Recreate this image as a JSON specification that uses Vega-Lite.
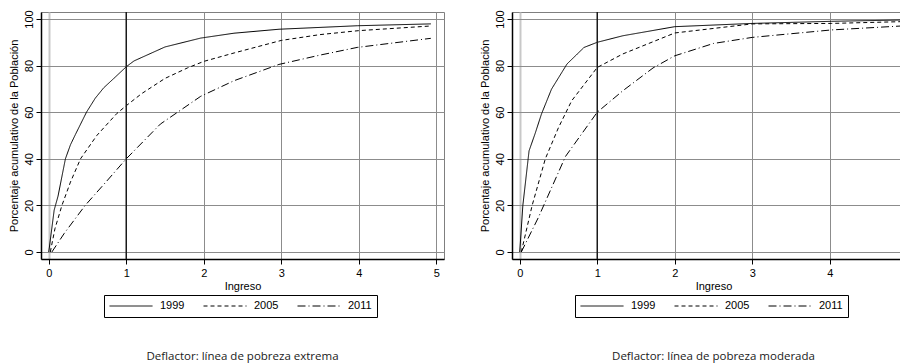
{
  "$schema": "https://vega.github.io/schema/vega-lite/v6.json",
  "background": "white",
  "padding": {"left": 7, "top": 9, "right": 0, "bottom": 0},
  "spacing": 33,
  "config": {
    "view": {"stroke": "#7f7f7f", "strokeWidth": 1},
    "axis": {
      "domainColor": "black",
      "domainWidth": 1.5,
      "tickColor": "black",
      "tickSize": 5,
      "labelFont": "Liberation Sans",
      "labelFontSize": 11,
      "labelColor": "black",
      "titleFont": "Liberation Sans",
      "titleFontSize": 11,
      "titleFontWeight": "normal",
      "titleColor": "black",
      "gridColor": "#8c8c8c",
      "gridWidth": 1
    },
    "legend": {
      "orient": "none",
      "legendX": 63,
      "legendY": 283,
      "direction": "horizontal",
      "symbolType": "stroke",
      "symbolSize": 1849,
      "symbolStrokeWidth": 1,
      "symbolStrokeColor": "black",
      "clipHeight": 12,
      "labelFont": "Liberation Sans",
      "labelFontSize": 11,
      "labelColor": "black",
      "labelOffset": 7,
      "columnPadding": 18,
      "padding": 5,
      "strokeColor": "black",
      "fillColor": "white"
    },
    "title": {"font": "Open Sans", "fontSize": 11.5, "fontWeight": "normal", "color": "#1a1a1a", "orient": "bottom", "offset": 33, "anchor": "middle"}
  },
  "datasets": {
    "extrema": [
      {"x": 0, "pct": 0, "year": "1999"},
      {"x": 0.07, "pct": 18, "year": "1999"},
      {"x": 0.12, "pct": 24, "year": "1999"},
      {"x": 0.215, "pct": 40, "year": "1999"},
      {"x": 0.28, "pct": 46, "year": "1999"},
      {"x": 0.345, "pct": 50.5, "year": "1999"},
      {"x": 0.487, "pct": 60, "year": "1999"},
      {"x": 0.6, "pct": 66, "year": "1999"},
      {"x": 0.71, "pct": 70.5, "year": "1999"},
      {"x": 0.84, "pct": 74.5, "year": "1999"},
      {"x": 1.0, "pct": 79.5, "year": "1999"},
      {"x": 1.1, "pct": 82, "year": "1999"},
      {"x": 1.5, "pct": 88, "year": "1999"},
      {"x": 1.96, "pct": 91.8, "year": "1999"},
      {"x": 2.39, "pct": 93.9, "year": "1999"},
      {"x": 2.97, "pct": 95.6, "year": "1999"},
      {"x": 3.98, "pct": 97.1, "year": "1999"},
      {"x": 4.93, "pct": 97.9, "year": "1999"},
      {"x": 0.02, "pct": 0, "year": "2005"},
      {"x": 0.08, "pct": 10, "year": "2005"},
      {"x": 0.17, "pct": 20, "year": "2005"},
      {"x": 0.28, "pct": 30, "year": "2005"},
      {"x": 0.41, "pct": 40, "year": "2005"},
      {"x": 0.62, "pct": 50, "year": "2005"},
      {"x": 0.88, "pct": 59.5, "year": "2005"},
      {"x": 1.0, "pct": 62.8, "year": "2005"},
      {"x": 1.2, "pct": 68, "year": "2005"},
      {"x": 1.5, "pct": 74.5, "year": "2005"},
      {"x": 1.79, "pct": 79, "year": "2005"},
      {"x": 2.0, "pct": 81.8, "year": "2005"},
      {"x": 2.4, "pct": 85.5, "year": "2005"},
      {"x": 3.0, "pct": 90.8, "year": "2005"},
      {"x": 3.5, "pct": 93.3, "year": "2005"},
      {"x": 4.0, "pct": 95, "year": "2005"},
      {"x": 4.93, "pct": 97, "year": "2005"},
      {"x": 0.04, "pct": 0, "year": "2011"},
      {"x": 0.2, "pct": 8, "year": "2011"},
      {"x": 0.47, "pct": 20, "year": "2011"},
      {"x": 0.75, "pct": 30.5, "year": "2011"},
      {"x": 1.0, "pct": 40, "year": "2011"},
      {"x": 1.44, "pct": 54.9, "year": "2011"},
      {"x": 1.96, "pct": 66.8, "year": "2011"},
      {"x": 2.39, "pct": 73.5, "year": "2011"},
      {"x": 2.97, "pct": 80.5, "year": "2011"},
      {"x": 3.5, "pct": 84.5, "year": "2011"},
      {"x": 3.98, "pct": 87.8, "year": "2011"},
      {"x": 4.93, "pct": 91.7, "year": "2011"}
    ],
    "moderada": [
      {"x": 0, "pct": 0, "year": "1999"},
      {"x": 0.04, "pct": 20, "year": "1999"},
      {"x": 0.12, "pct": 43.4, "year": "1999"},
      {"x": 0.2, "pct": 51, "year": "1999"},
      {"x": 0.28, "pct": 59.2, "year": "1999"},
      {"x": 0.41, "pct": 69.9, "year": "1999"},
      {"x": 0.61, "pct": 80.7, "year": "1999"},
      {"x": 0.83, "pct": 87.8, "year": "1999"},
      {"x": 1.0, "pct": 90, "year": "1999"},
      {"x": 1.33, "pct": 92.8, "year": "1999"},
      {"x": 2.0, "pct": 96.7, "year": "1999"},
      {"x": 3.0, "pct": 98.1, "year": "1999"},
      {"x": 4.02, "pct": 99, "year": "1999"},
      {"x": 4.98, "pct": 99.6, "year": "1999"},
      {"x": 0.02, "pct": 0, "year": "2005"},
      {"x": 0.16, "pct": 20, "year": "2005"},
      {"x": 0.33, "pct": 40, "year": "2005"},
      {"x": 0.5, "pct": 53.4, "year": "2005"},
      {"x": 0.67, "pct": 64.9, "year": "2005"},
      {"x": 1.0, "pct": 79.2, "year": "2005"},
      {"x": 1.33, "pct": 85, "year": "2005"},
      {"x": 2.0, "pct": 94, "year": "2005"},
      {"x": 3.0, "pct": 97.9, "year": "2005"},
      {"x": 4.02, "pct": 98.1, "year": "2005"},
      {"x": 4.98, "pct": 98.9, "year": "2005"},
      {"x": 0.02, "pct": 0, "year": "2011"},
      {"x": 0.24, "pct": 14.8, "year": "2011"},
      {"x": 0.59, "pct": 41, "year": "2011"},
      {"x": 1.0, "pct": 60, "year": "2011"},
      {"x": 1.33, "pct": 69.2, "year": "2011"},
      {"x": 1.72, "pct": 79, "year": "2011"},
      {"x": 2.0, "pct": 84.2, "year": "2011"},
      {"x": 2.5, "pct": 89.5, "year": "2011"},
      {"x": 3.0, "pct": 92.1, "year": "2011"},
      {"x": 4.02, "pct": 95.3, "year": "2011"},
      {"x": 4.98, "pct": 97.1, "year": "2011"}
    ]
  },
  "hconcat": [
    {
      "width": 403,
      "height": 247,
      "title": {"text": "Deflactor: línea de pobreza extrema"},
      "layer": [
        {
          "data": {"name": "extrema"},
          "mark": {"type": "line", "color": "black", "strokeWidth": 1, "clip": true},
          "encoding": {
            "x": {"field": "x", "type": "quantitative", "scale": {"domain": [-0.1, 5.1], "nice": false, "zero": false},
              "axis": {"title": "Ingreso", "values": [0, 1, 2, 3, 4, 5], "format": "d", "labelPadding": 3, "titlePadding": 2,
                "gridColor": {"condition": {"test": "datum.value === 0", "value": "#c8c8c8"}, "value": "#8c8c8c"},
                "gridWidth": {"condition": {"test": "datum.value === 0", "value": 2}, "value": 1}}},
            "y": {"field": "pct", "type": "quantitative", "scale": {"domain": [-3, 103], "nice": false, "zero": false},
              "axis": {"title": "Porcentaje acumulativo de la Población", "values": [0, 20, 40, 60, 80, 100], "labelAngle": 270, "labelAlign": "center", "labelBaseline": "bottom", "labelPadding": 2, "titlePadding": 4}},
            "strokeDash": {"field": "year", "type": "nominal",
              "scale": {"domain": ["1999", "2005", "2011"], "range": [[1, 0], [4, 3], [8, 3, 1, 3]]},
              "legend": {"title": null}}
          }
        },
        {
          "data": {"values": [{"v": 1}]},
          "mark": {"type": "rule", "color": "#1a1a1a", "strokeWidth": 1.5},
          "encoding": {"x": {"field": "v", "type": "quantitative"}}
        }
      ]
    },
    {
      "width": 403,
      "height": 247,
      "title": {"text": "Deflactor: línea de pobreza moderada"},
      "layer": [
        {
          "data": {"name": "moderada"},
          "mark": {"type": "line", "color": "black", "strokeWidth": 1, "clip": true},
          "encoding": {
            "x": {"field": "x", "type": "quantitative", "scale": {"domain": [-0.1, 5.1], "nice": false, "zero": false},
              "axis": {"title": "Ingreso", "values": [0, 1, 2, 3, 4, 5], "format": "d", "labelPadding": 3, "titlePadding": 2,
                "gridColor": {"condition": {"test": "datum.value === 0", "value": "#c8c8c8"}, "value": "#8c8c8c"},
                "gridWidth": {"condition": {"test": "datum.value === 0", "value": 2}, "value": 1}}},
            "y": {"field": "pct", "type": "quantitative", "scale": {"domain": [-3, 103], "nice": false, "zero": false},
              "axis": {"title": "Porcentaje acumulativo de la Población", "values": [0, 20, 40, 60, 80, 100], "labelAngle": 270, "labelAlign": "center", "labelBaseline": "bottom", "labelPadding": 2, "titlePadding": 4}},
            "strokeDash": {"field": "year", "type": "nominal",
              "scale": {"domain": ["1999", "2005", "2011"], "range": [[1, 0], [4, 3], [8, 3, 1, 3]]},
              "legend": {"title": null}}
          }
        },
        {
          "data": {"values": [{"v": 1}]},
          "mark": {"type": "rule", "color": "#1a1a1a", "strokeWidth": 1.5},
          "encoding": {"x": {"field": "v", "type": "quantitative"}}
        }
      ]
    }
  ],
  "resolve": {"scale": {"strokeDash": "independent"}, "legend": {"strokeDash": "independent"}}
}
